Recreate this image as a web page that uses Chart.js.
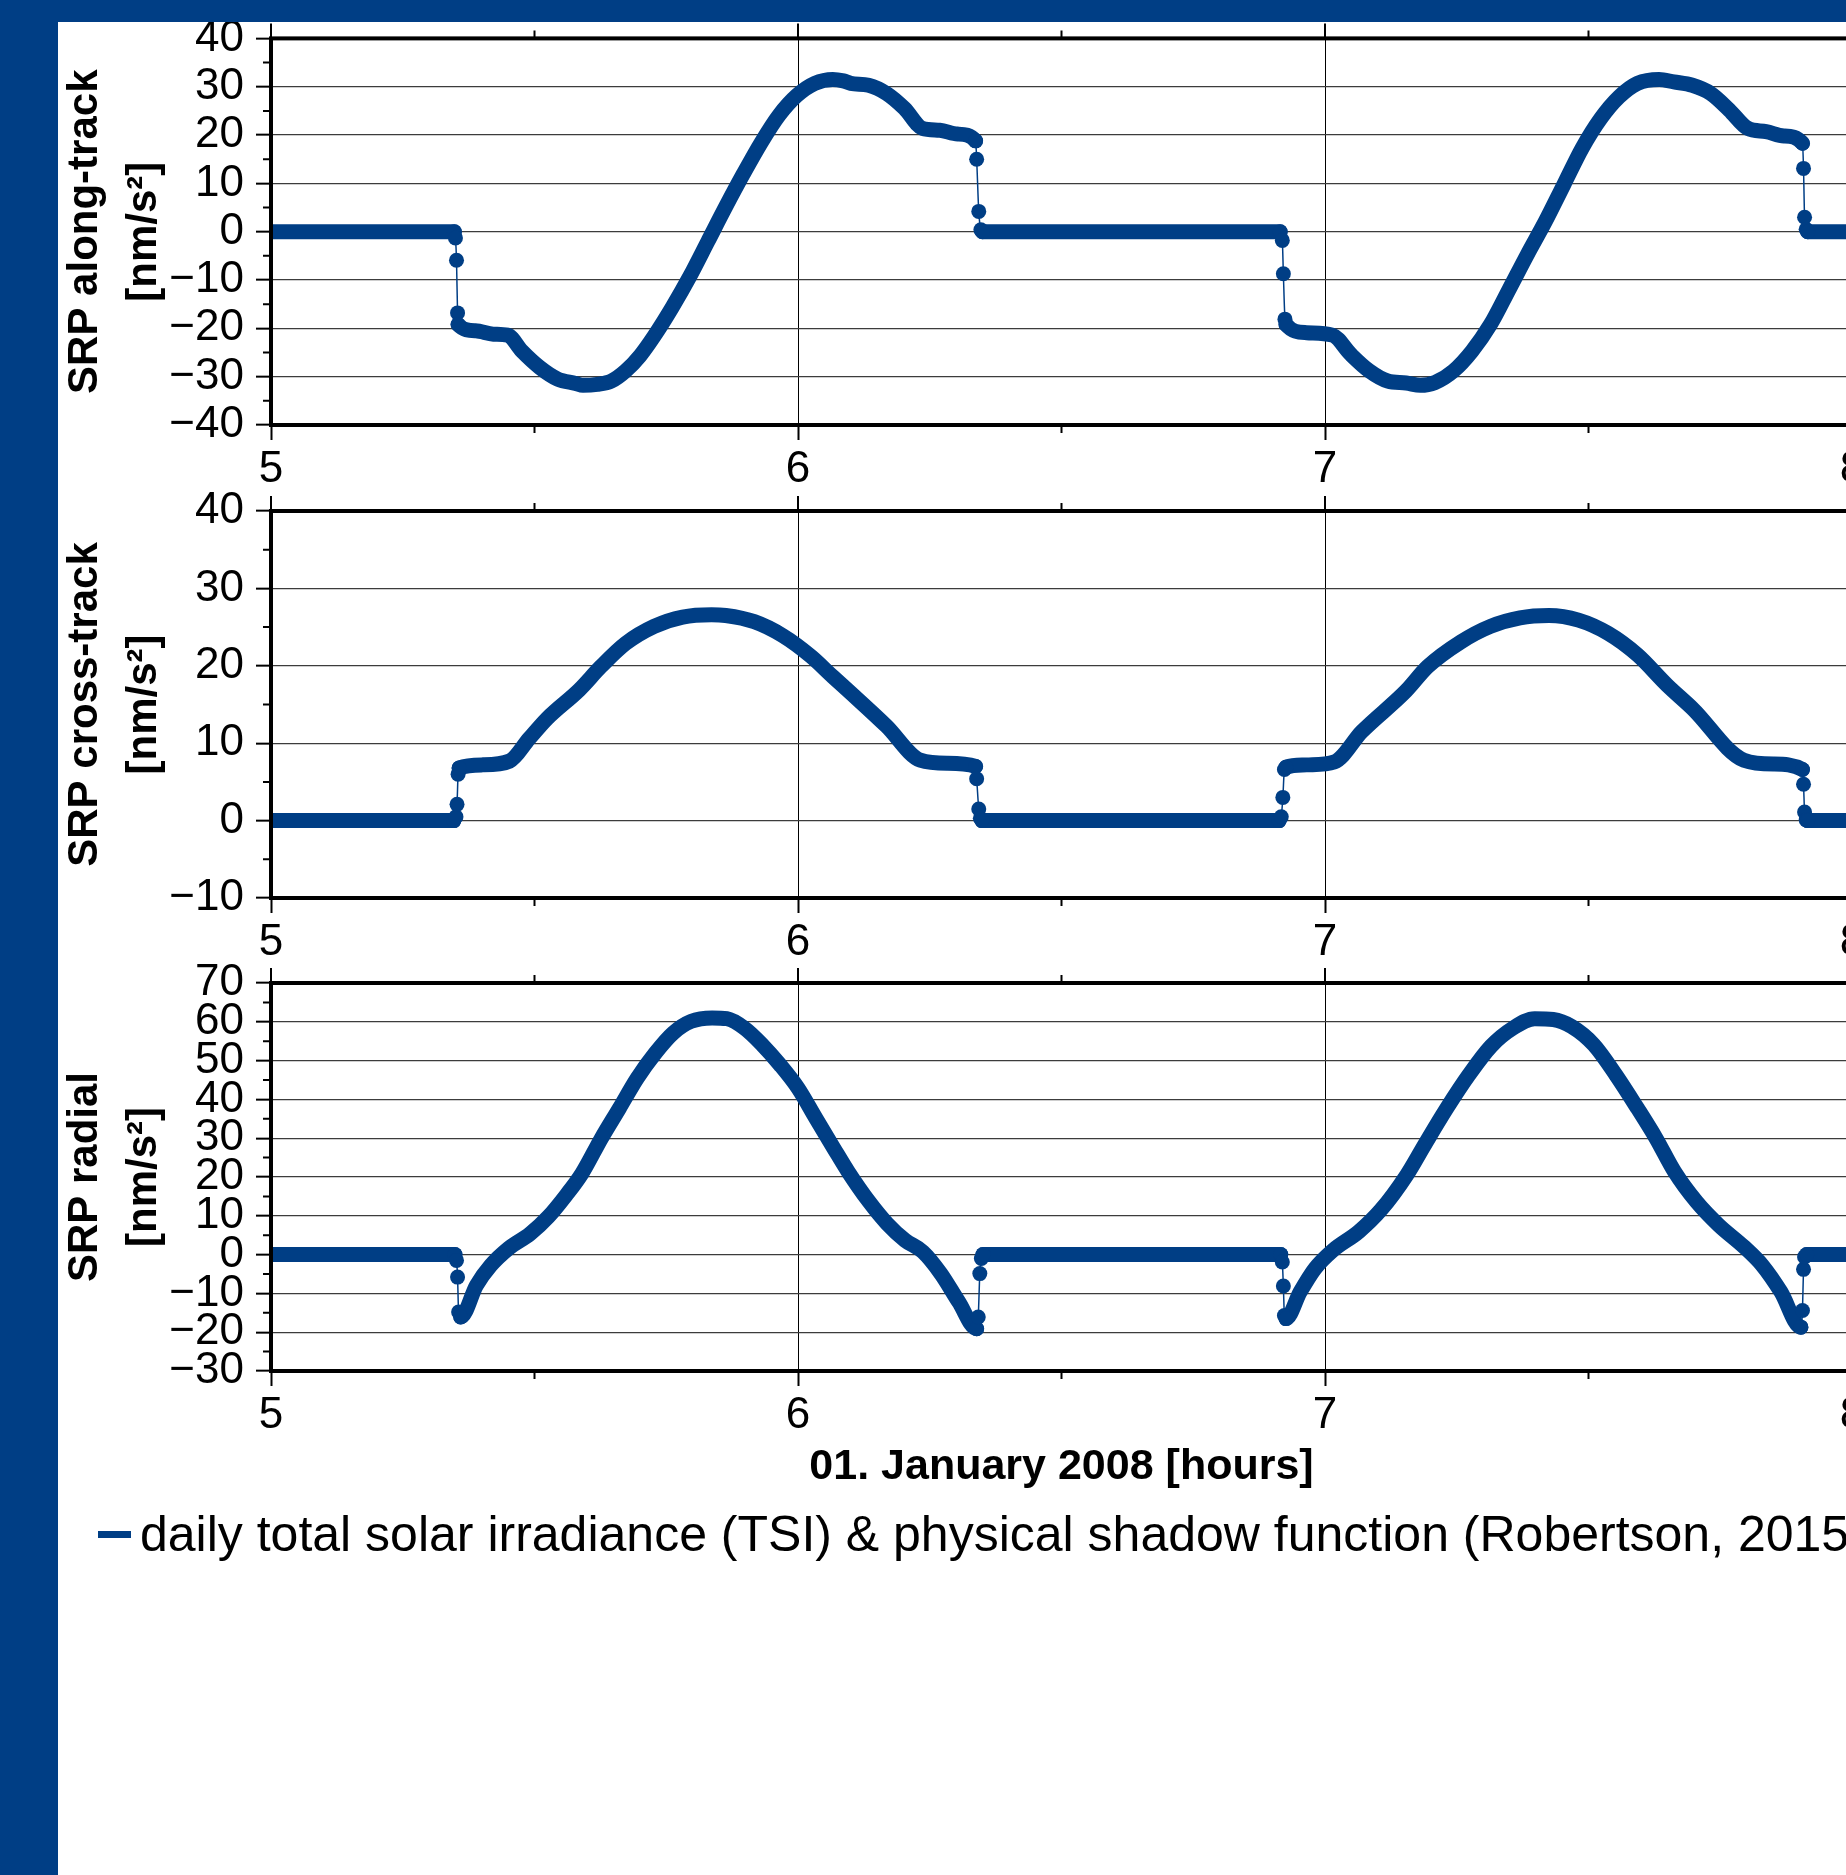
<!DOCTYPE html>
<html>
<head>
<meta charset="utf-8">
<script src="https://cdn.jsdelivr.net/npm/chart.js@4.4.1/dist/chart.umd.min.js"></script>
<style>
  html, body { margin: 0; padding: 0; background: #fff; overflow: hidden; }
  body { width: 1846px; height: 1875px; position: relative; font-family: 'Liberation Sans', Arial, sans-serif; }
  .band-top { position: absolute; left: 0; top: 0; width: 1846px; height: 22px; background: #003e85; z-index: 5; }
  .band-left { position: absolute; left: 0; top: 0; width: 58px; height: 1875px; background: #003e85; z-index: 5; }
  canvas { position: absolute; left: 0; }
  #legend { position: absolute; left: 98px; top: 1504px; height: 60px; display: flex; align-items: center; white-space: nowrap; font-size: 50px; color: #000; }
  #legend .swatch { display: inline-block; width: 33px; height: 7px; margin-right: 9px; }
</style>
</head>
<body>
<div class="band-top"></div>
<div class="band-left"></div>
<canvas id="along-chart" width="1900" height="495" style="top:0px"></canvas>
<canvas id="cross-chart" width="1900" height="507" style="top:461px"></canvas>
<canvas id="radial-chart" width="1900" height="560" style="top:933px"></canvas>
<div id="legend"></div>

<script>
// SRP along-track [nm/s^2]
const alongHours = [5.000, 5.348, 5.350, 5.352, 5.354, 5.355, 5.388, 5.422, 5.449, 5.476, 5.510, 5.544, 5.578, 5.592, 5.619, 5.646, 5.673, 5.700, 5.727, 5.761, 5.795, 5.829, 5.863, 5.897, 5.931, 5.964, 5.998, 6.032, 6.066, 6.086, 6.100, 6.134, 6.168, 6.202, 6.236, 6.269, 6.303, 6.337, 6.339, 6.343, 6.347, 6.350,
  6.915, 6.919, 6.921, 6.924, 6.926, 6.965, 7.014, 7.049, 7.084, 7.119, 7.154, 7.181, 7.209, 7.244, 7.279, 7.314, 7.349, 7.384, 7.418, 7.453, 7.488, 7.523, 7.558, 7.593, 7.634, 7.662, 7.697, 7.732, 7.767, 7.802, 7.837, 7.871, 7.906, 7.908, 7.910, 7.913, 7.916, 8.050];
const alongValues = [0, 0, -1.3, -5.9, -16.8, -19.2, -20.5, -21.2, -21.4, -24.7, -28.1, -30.5, -31.4, -31.8, -31.6, -30.9, -28.8, -25.7, -21.6, -15.7, -9.2, -2.0, 5.2, 12.1, 18.6, 24.1, 28.2, 30.7, 31.5, 31.2, 30.7, 30.3, 28.6, 25.5, 21.4, 21.0, 20.2, 18.8, 15.0, 4.2, 0.4, 0,
  0, -1.8, -8.7, -18.1, -19.2, -20.9, -21.4, -25.4, -28.8, -30.9, -31.3, -31.8, -31.2, -28.8, -24.7, -19.2, -12.0, -4.7, 2.1, 9.7, 17.3, 23.4, 27.9, 30.7, 31.5, 31.0, 30.3, 28.6, 25.2, 21.4, 20.7, 19.8, 18.3, 13.1, 3.0, 0.5, 0, 0];

// SRP cross-track [nm/s^2]
const crossHours = [5.000, 5.347, 5.351, 5.353, 5.355, 5.357, 5.402, 5.453, 5.490, 5.524, 5.585, 5.626, 5.673, 5.727, 5.781, 5.836, 5.863, 5.917, 5.971, 6.025, 6.066, 6.100, 6.168, 6.232, 6.283, 6.337, 6.339, 6.343, 6.346, 6.349,
  6.913, 6.917, 6.920, 6.923, 6.926, 6.965, 7.018, 7.070, 7.153, 7.195, 7.258, 7.314, 7.370, 7.425, 7.481, 7.537, 7.593, 7.649, 7.697, 7.795, 7.851, 7.906, 7.908, 7.910, 7.913, 7.916, 8.050];
const crossValues = [0, 0, 0.5, 2.1, 6.0, 6.8, 7.2, 7.7, 10.6, 13.2, 16.9, 19.9, 22.9, 25.1, 26.3, 26.6, 26.5, 25.7, 23.9, 21.2, 18.6, 16.5, 12.2, 7.8, 7.4, 7.0, 5.4, 1.5, 0.3, 0,
  0, 0.5, 3.0, 6.6, 6.9, 7.2, 7.6, 11.5, 16.7, 19.9, 23.1, 25.1, 26.2, 26.5, 25.9, 24.2, 21.4, 17.5, 14.5, 7.8, 7.3, 6.6, 4.7, 1.1, 0.1, 0, 0];

// SRP radial [nm/s^2]
const radialHours = [5.000, 5.349, 5.352, 5.354, 5.356, 5.360, 5.390, 5.417, 5.451, 5.492, 5.526, 5.560, 5.590, 5.627, 5.661, 5.695, 5.729, 5.763, 5.797, 5.837, 5.865, 5.898, 5.932, 5.966, 6.000, 6.034, 6.068, 6.095, 6.135, 6.169, 6.203, 6.237, 6.271, 6.305, 6.339, 6.342, 6.345, 6.348, 6.351,
  6.916, 6.919, 6.921, 6.923, 6.926, 6.953, 6.981, 7.015, 7.064, 7.106, 7.155, 7.189, 7.231, 7.273, 7.315, 7.357, 7.398, 7.433, 7.468, 7.510, 7.552, 7.593, 7.628, 7.663, 7.705, 7.747, 7.795, 7.830, 7.865, 7.903, 7.906, 7.908, 7.910, 7.914, 8.050];
const radialValues = [0, 0, -1.5, -5.8, -14.8, -16.1, -7.9, -2.8, 1.6, 5.4, 9.7, 15.3, 20.9, 30.0, 37.7, 45.5, 51.9, 57.1, 60.1, 61.0, 60.8, 58.4, 54.1, 48.9, 42.9, 35.1, 27.4, 21.4, 13.6, 8.0, 3.7, 0.7, -4.9, -12.2, -19.1, -16.1, -4.9, -1.0, 0,
  0, -1.9, -8.1, -15.7, -16.5, -9.6, -3.6, 1.1, 5.9, 11.5, 20.5, 28.3, 37.7, 46.3, 53.7, 58.4, 60.8, 60.6, 58.8, 54.1, 46.3, 37.7, 30.0, 21.4, 13.6, 7.6, 2.0, -2.8, -9.6, -18.7, -14.4, -3.8, -0.6, 0, 0];

const hourTicks = [5, 6, 7, 8];
const halfHourTicks = [5.5, 6.5, 7.5];
const seriesLabel = 'daily total solar irradiance (TSI) & physical shadow function (Robertson, 2015)';
const blue = '#003e85';
const jumpGap = 0.006; // hours; closer samples are the shadow transition dots

Chart.defaults.font.family = "'Liberation Sans', Arial, sans-serif";
Chart.defaults.color = '#000';

const minus = v => (v < 0 ? '\u2212' + Math.abs(v) : String(v));

// frame on all four sides plus the short ticks GMT draws
const gmtFrame = {
  id: 'gmtFrame',
  afterDatasetsDraw(chart) {
    const { ctx, chartArea: a, scales: { x, y } } = chart;
    ctx.save();
    ctx.strokeStyle = '#000';
    ctx.lineWidth = 2;
    ctx.beginPath();
    for (let v = y.min + 5; v < y.max; v += 10) {
      const py = y.getPixelForValue(v);
      ctx.moveTo(a.left - 8, py); ctx.lineTo(a.left, py);
    }
    halfHourTicks.forEach(h => {
      const px = x.getPixelForValue(h);
      ctx.moveTo(px, a.top - 8); ctx.lineTo(px, a.top);
      ctx.moveTo(px, a.bottom); ctx.lineTo(px, a.bottom + 8);
    });
    hourTicks.forEach(h => {
      const px = x.getPixelForValue(h);
      ctx.moveTo(px, a.top - 15); ctx.lineTo(px, a.top);
    });
    ctx.stroke();
    ctx.lineWidth = 4;
    ctx.strokeRect(a.left, a.top, a.right - a.left, a.bottom - a.top);
    ctx.restore();
  }
};

function makeChart(id, hours, values, yTitle, yMin, yMax, padTop, xHeight, xTitle) {
  const data = hours.map((h, i) => ({ x: h, y: values[i] }));
  return new Chart(document.getElementById(id), {
    type: 'line',
    data: {
      datasets: [{
        label: seriesLabel,
        data,
        borderColor: blue,
        backgroundColor: blue,
        borderCapStyle: 'round',
        borderJoinStyle: 'round',
        cubicInterpolationMode: 'monotone',
        clip: 0,
        pointBorderWidth: 0,
        pointBackgroundColor: blue,
        pointRadius: c => {
          const d = c.dataset.data, i = c.dataIndex;
          const near = j => d[j] && Math.abs(d[j].x - d[i].x) < jumpGap;
          return near(i - 1) || near(i + 1) ? 7.5 : 0;
        },
        segment: {
          borderWidth: c => (c.p1.parsed.x - c.p0.parsed.x < jumpGap ? 1.5 : 15)
        }
      }]
    },
    options: {
      responsive: false,
      animation: false,
      devicePixelRatio: 1,
      layout: { padding: { top: padTop, right: 48, left: 0, bottom: 0 } },
      plugins: { legend: { display: false }, tooltip: { enabled: false } },
      scales: {
        x: {
          type: 'linear', min: 5, max: 8,
          afterFit: s => { s.height = xHeight; },
          ticks: { stepSize: 1, padding: 3, autoSkip: false, maxRotation: 0, font: { size: 44 } },
          grid: { color: '#000', lineWidth: 1, tickLength: 15, tickColor: '#000', tickWidth: 2 },
          border: { display: false },
          title: xTitle
            ? { display: true, text: xTitle, font: { size: 43, weight: 'bold' }, padding: { top: 0, bottom: 0 } }
            : { display: false }
        },
        y: {
          min: yMin, max: yMax,
          afterFit: s => { s.width = 271; },
          ticks: { stepSize: 10, padding: 12, autoSkip: false, font: { size: 44 }, callback: minus },
          grid: { color: '#3c3c3c', lineWidth: 1.3, tickLength: 15, tickColor: '#000', tickWidth: 2 },
          border: { display: false },
          title: {
            display: true, text: yTitle,
            font: { size: 42, weight: 'bold', lineHeight: 1.4 },
            padding: { top: 56, bottom: 0 }
          }
        }
      }
    },
    plugins: [gmtFrame]
  });
}

makeChart('along-chart', alongHours, alongValues, ['SRP along-track', '[nm/s\u00b2]'], -40, 40, 38, 70);
makeChart('cross-chart', crossHours, crossValues, ['SRP cross-track', '[nm/s\u00b2]'], -10, 40, 50, 70);
const radialChart = makeChart('radial-chart', radialHours, radialValues, ['SRP radial', '[nm/s\u00b2]'], -30, 70, 50, 122, '01. January 2008 [hours]');

// legend below the last panel
const legendEl = document.getElementById('legend');
radialChart.data.datasets.forEach(ds => {
  const sw = document.createElement('span');
  sw.className = 'swatch';
  sw.style.background = ds.borderColor;
  const txt = document.createElement('span');
  txt.textContent = ds.label;
  legendEl.appendChild(sw);
  legendEl.appendChild(txt);
});
</script>
</body>
</html>
